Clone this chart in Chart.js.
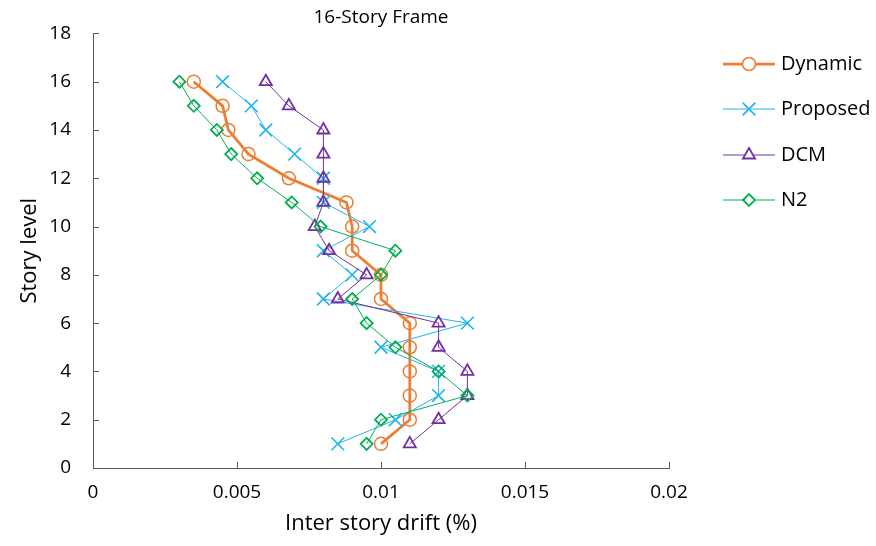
<!DOCTYPE html>
<html>
<head>
<meta charset="utf-8">
<script src="https://cdn.jsdelivr.net/npm/chart.js@4"></script>
<style>
  html, body { margin: 0; padding: 0; background: #fff; }
  #wrap { width: 876px; height: 546px; }
</style>
</head>
<body>
<div id="wrap"><canvas id="chart" width="876" height="546"></canvas></div>
<script>
// story levels and drift values
const stories = [1, 2, 3, 4, 5, 6, 7, 8, 9, 10, 11, 12, 13, 14, 15, 16];
const dynamic  = [0.0100, 0.0110, 0.0110, 0.0110, 0.0110, 0.0110, 0.0100, 0.0100, 0.0090, 0.0090, 0.0088, 0.0068, 0.0054, 0.0047, 0.0045, 0.0035];
const proposed = [0.0085, 0.0105, 0.0120, 0.0120, 0.0100, 0.0130, 0.0080, 0.0090, 0.0080, 0.0096, 0.0080, 0.0080, 0.0070, 0.0060, 0.0055, 0.0045];
const dcm      = [0.0110, 0.0120, 0.0130, 0.0130, 0.0120, 0.0120, 0.0085, 0.0095, 0.0082, 0.0077, 0.0080, 0.0080, 0.0080, 0.0080, 0.0068, 0.0060];
const n2       = [0.0095, 0.0100, 0.0130, 0.0120, 0.0105, 0.0095, 0.0090, 0.0100, 0.0105, 0.0079, 0.0069, 0.0057, 0.0048, 0.0043, 0.0035, 0.0030];
const xTicks = [0, 0.005, 0.01, 0.015, 0.02];
const yTicks = [0, 2, 4, 6, 8, 10, 12, 14, 16, 18];

const FONT = "'Open Sans', 'DejaVu Sans', sans-serif";
const toPts = arr => arr.map((v, i) => ({ x: v, y: stories[i] }));

const series = [
  { label: "Dynamic",  data: dynamic,  color: "#ED7D31", style: "circle",   radius: 6.5, lw: 2.75, bw: 1.5, order: 4 },
  { label: "Proposed", data: proposed, color: "#1FB4EC", style: "crossRot", radius: 9,   lw: 1,    bw: 1.6, order: 3 },
  { label: "DCM",      data: dcm,      color: "#7030A0", style: "triangle", radius: 7,   lw: 1,    bw: 1.8, order: 2 },
  { label: "N2",       data: n2,       color: "#00B050", style: "rectRot",  radius: 6,   lw: 1,    bw: 1.8, order: 1 }
];

// title, inner tick marks and the legend on the right
const extras = {
  id: "extras",
  afterDraw(chart) {
    const ctx = chart.ctx;
    const xs = chart.scales.x, ys = chart.scales.y;
    ctx.save();
    ctx.strokeStyle = "#595959";
    ctx.lineWidth = 1;
    xTicks.forEach(t => {
      const px = Math.round(xs.getPixelForValue(t)) + 0.5;
      ctx.beginPath();
      ctx.moveTo(px, ys.bottom);
      ctx.lineTo(px, ys.bottom - 6);
      ctx.stroke();
    });
    yTicks.forEach(t => {
      const py = Math.round(ys.getPixelForValue(t)) + 0.5;
      ctx.beginPath();
      ctx.moveTo(xs.left, py);
      ctx.lineTo(xs.left + 6, py);
      ctx.stroke();
    });

    ctx.fillStyle = "#000";
    ctx.font = "19px " + FONT;
    ctx.textAlign = "center";
    ctx.textBaseline = "middle";
    ctx.fillText("16-Story Frame", (xs.left + xs.right) / 2, 18);

    const legY = [64, 109, 155, 200];
    series.forEach((s, i) => {
      const y = legY[i];
      ctx.strokeStyle = s.color;
      ctx.lineWidth = s.lw;
      ctx.beginPath();
      ctx.moveTo(723, y);
      ctx.lineTo(775, y);
      ctx.stroke();
      ctx.lineWidth = s.bw;
      ctx.fillStyle = "#fff";
      Chart.helpers.drawPoint(ctx, { pointStyle: s.style, radius: s.radius, borderWidth: s.bw }, 749, y);
      ctx.fillStyle = "#000";
      ctx.font = "20px " + FONT;
      ctx.textAlign = "left";
      ctx.fillText(s.label, 781, y);
    });
    ctx.restore();
  }
};

new Chart(document.getElementById("chart").getContext("2d"), {
  type: "scatter",
  data: {
    datasets: series.map(s => ({
      label: s.label,
      data: toPts(s.data),
      showLine: true,
      borderColor: s.color,
      borderWidth: s.lw,
      backgroundColor: "transparent",
      pointStyle: s.style,
      pointRadius: s.radius,
      pointBorderWidth: s.bw,
      pointBorderColor: s.color,
      pointBackgroundColor: "transparent",
      order: s.order
    }))
  },
  options: {
    responsive: false,
    animation: false,
    layout: { padding: { top: 32, right: 207, left: 0, bottom: 0 } },
    plugins: { legend: { display: false }, tooltip: { enabled: false }, title: { display: false } },
    scales: {
      x: {
        type: "linear",
        min: 0, max: 0.02,
        afterBuildTicks: sc => { sc.ticks = xTicks.map(v => ({ value: v })); },
        afterFit: sc => { sc.height = 78; },
        grid: { display: true, drawOnChartArea: false, drawTicks: false },
        border: { color: "#595959", width: 1 },
        ticks: { color: "#000", font: { family: FONT, size: 19 }, padding: 13, callback: v => String(+v.toFixed(4)) },
        title: { display: true, text: "Inter story drift (%)", color: "#000", font: { family: FONT, size: 22 }, padding: { top: 0, bottom: 9 } }
      },
      y: {
        type: "linear",
        min: 0, max: 18,
        afterBuildTicks: sc => { sc.ticks = yTicks.map(v => ({ value: v })); },
        afterFit: sc => { sc.width = 93; },
        grid: { display: true, drawOnChartArea: false, drawTicks: false },
        border: { color: "#595959", width: 1 },
        ticks: { color: "#000", font: { family: FONT, size: 19 }, padding: 22 },
        title: { display: true, text: "Story level", color: "#000", font: { family: FONT, size: 22 }, padding: { top: 17, bottom: 0 } }
      }
    }
  },
  plugins: [extras]
});
</script>
</body>
</html>
